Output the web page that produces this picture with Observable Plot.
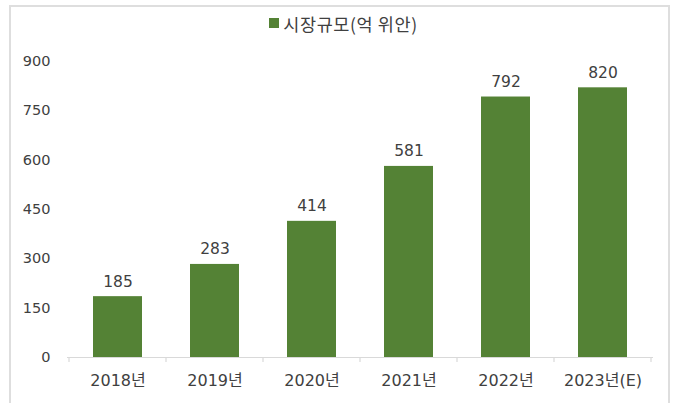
<!DOCTYPE html>
<html>
<head>
<meta charset="utf-8">
<script src="https://cdn.jsdelivr.net/npm/d3@7"></script>
<script src="https://cdn.jsdelivr.net/npm/@observablehq/plot@0.6"></script>
<style>
  html, body { margin: 0; padding: 0; background: #fff; }
  #wrap { position: relative; width: 675px; height: 403px; overflow: hidden; font-family: "DejaVu Sans", "Noto Sans CJK KR", sans-serif; }
  #frame { position: absolute; left: 9px; top: 5px; width: 657px; height: 420px; border: 2px solid #dedede; border-bottom: none; }
  #legend { position: absolute; left: 0; top: 0; width: 675px; height: 46px; display: flex; justify-content: center; align-items: center; padding-left: 12px; box-sizing: border-box; font-family: "Noto Sans CJK KR", sans-serif; font-size: 17.5px; color: #404040; letter-spacing: 0.6px; }
  #legend .sw { width: 10px; height: 10px; background: #548235; margin-right: 4px; }
  #chart { position: absolute; left: 0; top: 45px; }
</style>
</head>
<body>
<div id="wrap">
  <div id="frame"></div>
  <div id="legend"><span class="sw"></span><span id="legendText"></span></div>
  <div id="chart"></div>
</div>
<script>
const categories = ["2018년", "2019년", "2020년", "2021년", "2022년", "2023년(E)"];
const values = [185, 283, 414, 581, 792, 820];
const yTicks = [0, 150, 300, 450, 600, 750, 900];
const seriesName = "시장규모(억 위안)";

document.getElementById("legendText").textContent = seriesName;

const data = categories.map((c, i) => ({category: c, value: values[i]}));

const chart = Plot.plot({
  width: 675,
  height: 358,
  marginLeft: 67,
  marginRight: 22,
  marginTop: 16,
  marginBottom: 46,
  style: {fontFamily: "'DejaVu Sans', 'Noto Sans CJK KR', sans-serif", color: "#404040", background: "transparent"},
  x: {domain: categories, paddingInner: 0.5, paddingOuter: 0.25, label: null},
  y: {domain: [0, 900], label: null},
  marks: [
    Plot.barY(data, {x: "category", y: "value", fill: "#548235"}),
    Plot.ruleY([0], {stroke: "#d9d9d9", strokeWidth: 1.2}),
    Plot.axisY({ticks: yTicks, tickSize: 0, tickPadding: 17, fontSize: 14.5, label: null, fill: "#404040"}),
    Plot.axisX({tickSize: 0, tickPadding: 17, fontSize: 16, label: null, fill: "#404040"}),
    Plot.text(data, {x: "category", y: "value", text: d => String(d.value), lineAnchor: "bottom", dy: -10, fontSize: 15.5, fill: "#404040"})
  ]
});
document.getElementById("chart").appendChild(chart);

// category boundary ticks on the baseline, derived from the band scale
const sx = chart.scale("x");
const sy = chart.scale("y");
const svg = d3.select(chart.tagName.toLowerCase() === "svg" ? chart : chart.querySelector("svg"));
const baseY = sy.apply(0);
for (let i = 0; i <= categories.length; i++) {
  const xb = sx.apply(categories[0]) - (sx.step - sx.bandwidth) / 2 + i * sx.step;
  svg.append("line")
    .attr("x1", xb).attr("x2", xb)
    .attr("y1", baseY).attr("y2", baseY + 5)
    .attr("stroke", "#d9d9d9").attr("stroke-width", 1.2);
}
</script>
</body>
</html>
